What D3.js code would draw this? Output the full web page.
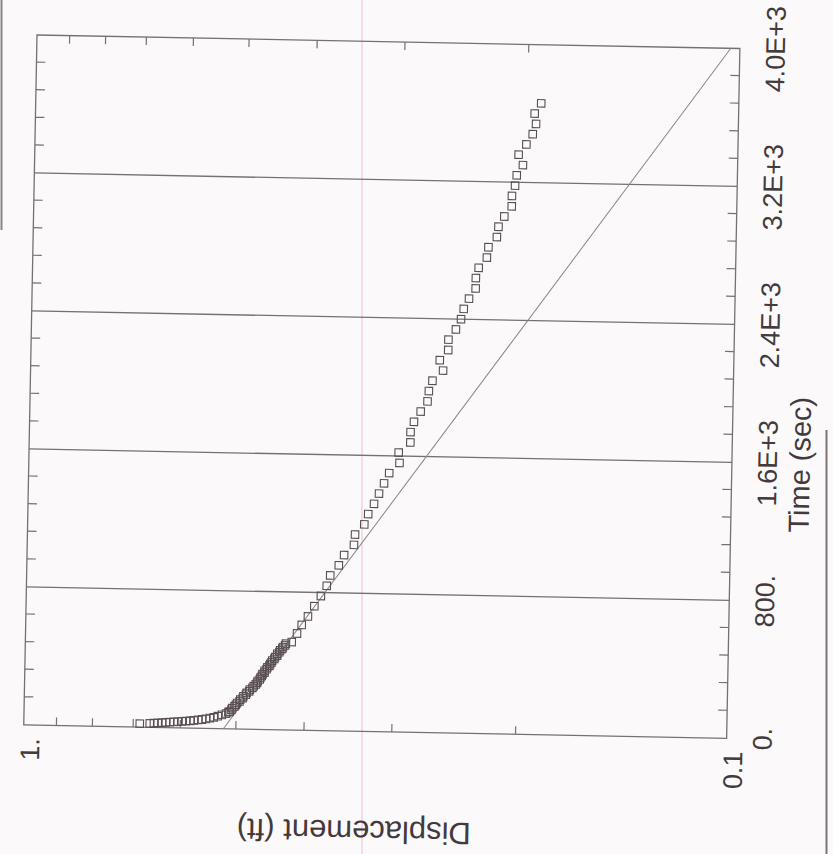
<!DOCTYPE html>
<html>
<head>
<meta charset="utf-8">
<script src="https://cdn.jsdelivr.net/npm/d3@7"></script>
<style>
  html, body { margin: 0; padding: 0; background: #fcf9fb; }
  svg { display: block; }
  text { font-family: "Liberation Sans", Arial, Helvetica, sans-serif; fill: #433a3c; }
</style>
</head>
<body>
<script>
// ---------- data ----------
const timeSec = [
  20, 22, 24, 26, 28, 30, 32, 34, 36, 38, 40, 42, 45, 48, 51, 55, 60, 65, 72, 80, 88, 96,
  100, 110, 120, 130, 140, 150, 160, 170, 180, 190, 200, 210, 220, 230, 240, 250, 260, 270,
  280, 290, 300, 310, 320, 330, 340, 350, 360, 370, 380, 390, 400, 410, 420, 430, 440, 450,
  460, 470, 480, 490, 500, 510, 560, 610,
  660, 720, 780, 840, 900, 960, 1020, 1080, 1140, 1200, 1260, 1320, 1380, 1440, 1500, 1560,
  1620, 1680, 1740, 1800, 1860, 1920, 1980, 2040, 2100, 2160, 2220, 2280, 2340, 2400, 2460,
  2520, 2580, 2640, 2700, 2760, 2820, 2880, 2940, 3000, 3060, 3120, 3180, 3240, 3300, 3360,
  3420, 3480, 3540, 3600, 3660
];
const displacementFt = [
  0.684, 0.662, 0.653, 0.645, 0.636, 0.628, 0.620, 0.612, 0.604, 0.596, 0.588, 0.580, 0.573, 0.565, 0.558, 0.551, 0.544, 0.537, 0.530, 0.523, 0.516, 0.512,
  0.510, 0.507, 0.506, 0.502, 0.500, 0.498, 0.494, 0.493, 0.489, 0.488, 0.484, 0.483, 0.479, 0.478, 0.474, 0.472, 0.469, 0.467,
  0.466, 0.463, 0.462, 0.460, 0.459, 0.456, 0.456, 0.453, 0.452, 0.449, 0.448, 0.446, 0.445, 0.442, 0.441, 0.438, 0.438, 0.435,
  0.434, 0.431, 0.430, 0.427, 0.426, 0.418, 0.411, 0.405,
  0.397, 0.389, 0.381, 0.374, 0.370, 0.360, 0.354, 0.343, 0.342, 0.332, 0.328, 0.322, 0.317, 0.312, 0.307, 0.297,
  0.298, 0.287, 0.287, 0.284, 0.278, 0.272, 0.271, 0.268, 0.259, 0.262, 0.255, 0.255, 0.249, 0.245, 0.243,
  0.239, 0.234, 0.234, 0.232, 0.226, 0.225, 0.219, 0.218, 0.214, 0.209, 0.209, 0.207, 0.206, 0.202, 0.205,
  0.200, 0.196, 0.194, 0.195, 0.191
];
const fitTime = [0, 4000];
const fitDisp = [0.520, 0.103];

const timeDomain = [0, 4000];
const dispDomain = [0.1, 1];
const timeGrid = [800, 1600, 2400, 3200];
const timeTicks = [0, 800, 1600, 2400, 3200, 4000];
const timeTickLabels = ["0.", "800.", "1.6E+3", "2.4E+3", "3.2E+3", "4.0E+3"];
const timeMinorTicks = [160, 320, 480, 640, 960, 1120, 1280, 1440, 1760, 1920, 2080, 2240,
                        2560, 2720, 2880, 3040, 3360, 3520, 3680, 3840];
const dispTicks = [1, 0.1];
const dispTickLabels = ["1.", "0.1"];
const dispMinorTicks = [0.2, 0.3, 0.4, 0.5, 0.6, 0.7, 0.8, 0.9];
const xTitle = "Time (sec)";
const yTitle = "Displacement (ft)";

// ---------- layout ----------
const PW = 690, PH = 703;   // plot size in the chart's own (unrotated) frame
const svg = d3.select("body").append("svg").attr("width", 833).attr("height", 854);
svg.append("rect").attr("width", 833).attr("height", 854).attr("fill", "#fcf9fb");

// scan artefacts of the page
svg.append("line").attr("x1", 362).attr("x2", 362).attr("y1", 0).attr("y2", 854)
   .attr("stroke", "#f2dcee").attr("stroke-width", 2);
svg.append("line").attr("x1", 1.5).attr("x2", 1.5).attr("y1", 0).attr("y2", 230)
   .attr("stroke", "#8a8486").attr("stroke-width", 2);
svg.append("line").attr("x1", 826.5).attr("x2", 826.5).attr("y1", 430).attr("y2", 854)
   .attr("stroke", "#7a7476").attr("stroke-width", 2);

// the page is scanned turned 90 degrees anticlockwise, with a slight tilt
const g = svg.append("g")
  .attr("transform", "translate(37,35) rotate(1.1) translate(0,690) rotate(-90)");

const x = d3.scaleLinear().domain(timeDomain).range([0, PW]);
const y = d3.scaleLog().domain(dispDomain).range([PH, 0]);

const lineCol = "#757072";

// vertical grid lines at major time ticks
g.append("g").selectAll("line").data(timeGrid).join("line")
  .attr("x1", d => x(d)).attr("x2", d => x(d))
  .attr("y1", 0).attr("y2", PH)
  .attr("stroke", lineCol).attr("stroke-width", 1.3);

// inward minor ticks on all four sides
function styleAxis(sel) {
  sel.select(".domain").remove();
  sel.selectAll(".tick line").attr("stroke", lineCol).attr("stroke-width", 1.2);
  sel.selectAll(".tick text").remove();
}
g.append("g").attr("transform", `translate(0,${PH})`)
  .call(d3.axisBottom(x).tickValues(timeMinorTicks).tickSize(-9).tickFormat(""))
  .call(styleAxis);
g.append("g")
  .call(d3.axisTop(x).tickValues(timeMinorTicks).tickSize(-9).tickFormat(""))
  .call(styleAxis);
g.append("g")
  .call(d3.axisLeft(y).tickValues(dispMinorTicks).tickSize(-8).tickFormat(""))
  .call(styleAxis);
g.append("g").attr("transform", `translate(${PW},0)`)
  .call(d3.axisRight(y).tickValues(dispMinorTicks).tickSize(-8).tickFormat(""))
  .call(styleAxis);

// frame
g.append("rect").attr("x", 0).attr("y", 0).attr("width", PW).attr("height", PH)
  .attr("fill", "none").attr("stroke", lineCol).attr("stroke-width", 1.3);

// fitted straight line
g.append("path")
  .datum(fitTime.map((t, i) => [t, fitDisp[i]]))
  .attr("d", d3.line().x(d => x(d[0])).y(d => y(d[1])))
  .attr("fill", "none").attr("stroke", "#8a8486").attr("stroke-width", 1);

// observed points (hollow squares)
const S = 7.5;
g.append("g").selectAll("rect").data(timeSec.map((t, i) => [t, displacementFt[i]])).join("rect")
  .attr("x", d => x(d[0]) - S / 2).attr("y", d => y(d[1]) - S / 2)
  .attr("width", S).attr("height", S)
  .attr("fill", "none").attr("stroke", "#584f51").attr("stroke-width", 1.1);

// tick labels
g.append("g").selectAll("text").data(timeTicks).join("text")
  .attr("x", d => x(d)).attr("y", PH + 36)
  .attr("text-anchor", "middle").attr("dominant-baseline", "central")
  .attr("font-size", 27)
  .text((d, i) => timeTickLabels[i]);
g.append("g").selectAll("text").data(dispTicks).join("text")
  .attr("x", -13).attr("y", d => y(d) + 7)
  .attr("text-anchor", "end").attr("dominant-baseline", "central")
  .attr("font-size", 27)
  .text((d, i) => dispTickLabels[i]);

// axis titles
g.append("text")
  .attr("x", 275).attr("y", PH + 68)
  .attr("text-anchor", "middle").attr("dominant-baseline", "central")
  .attr("font-size", 29)
  .text(xTitle);
g.append("text")
  .attr("transform", `translate(-100,332) rotate(-90)`)
  .attr("text-anchor", "middle").attr("dominant-baseline", "central")
  .attr("font-size", 31)
  .text(yTitle);
</script>
</body>
</html>
